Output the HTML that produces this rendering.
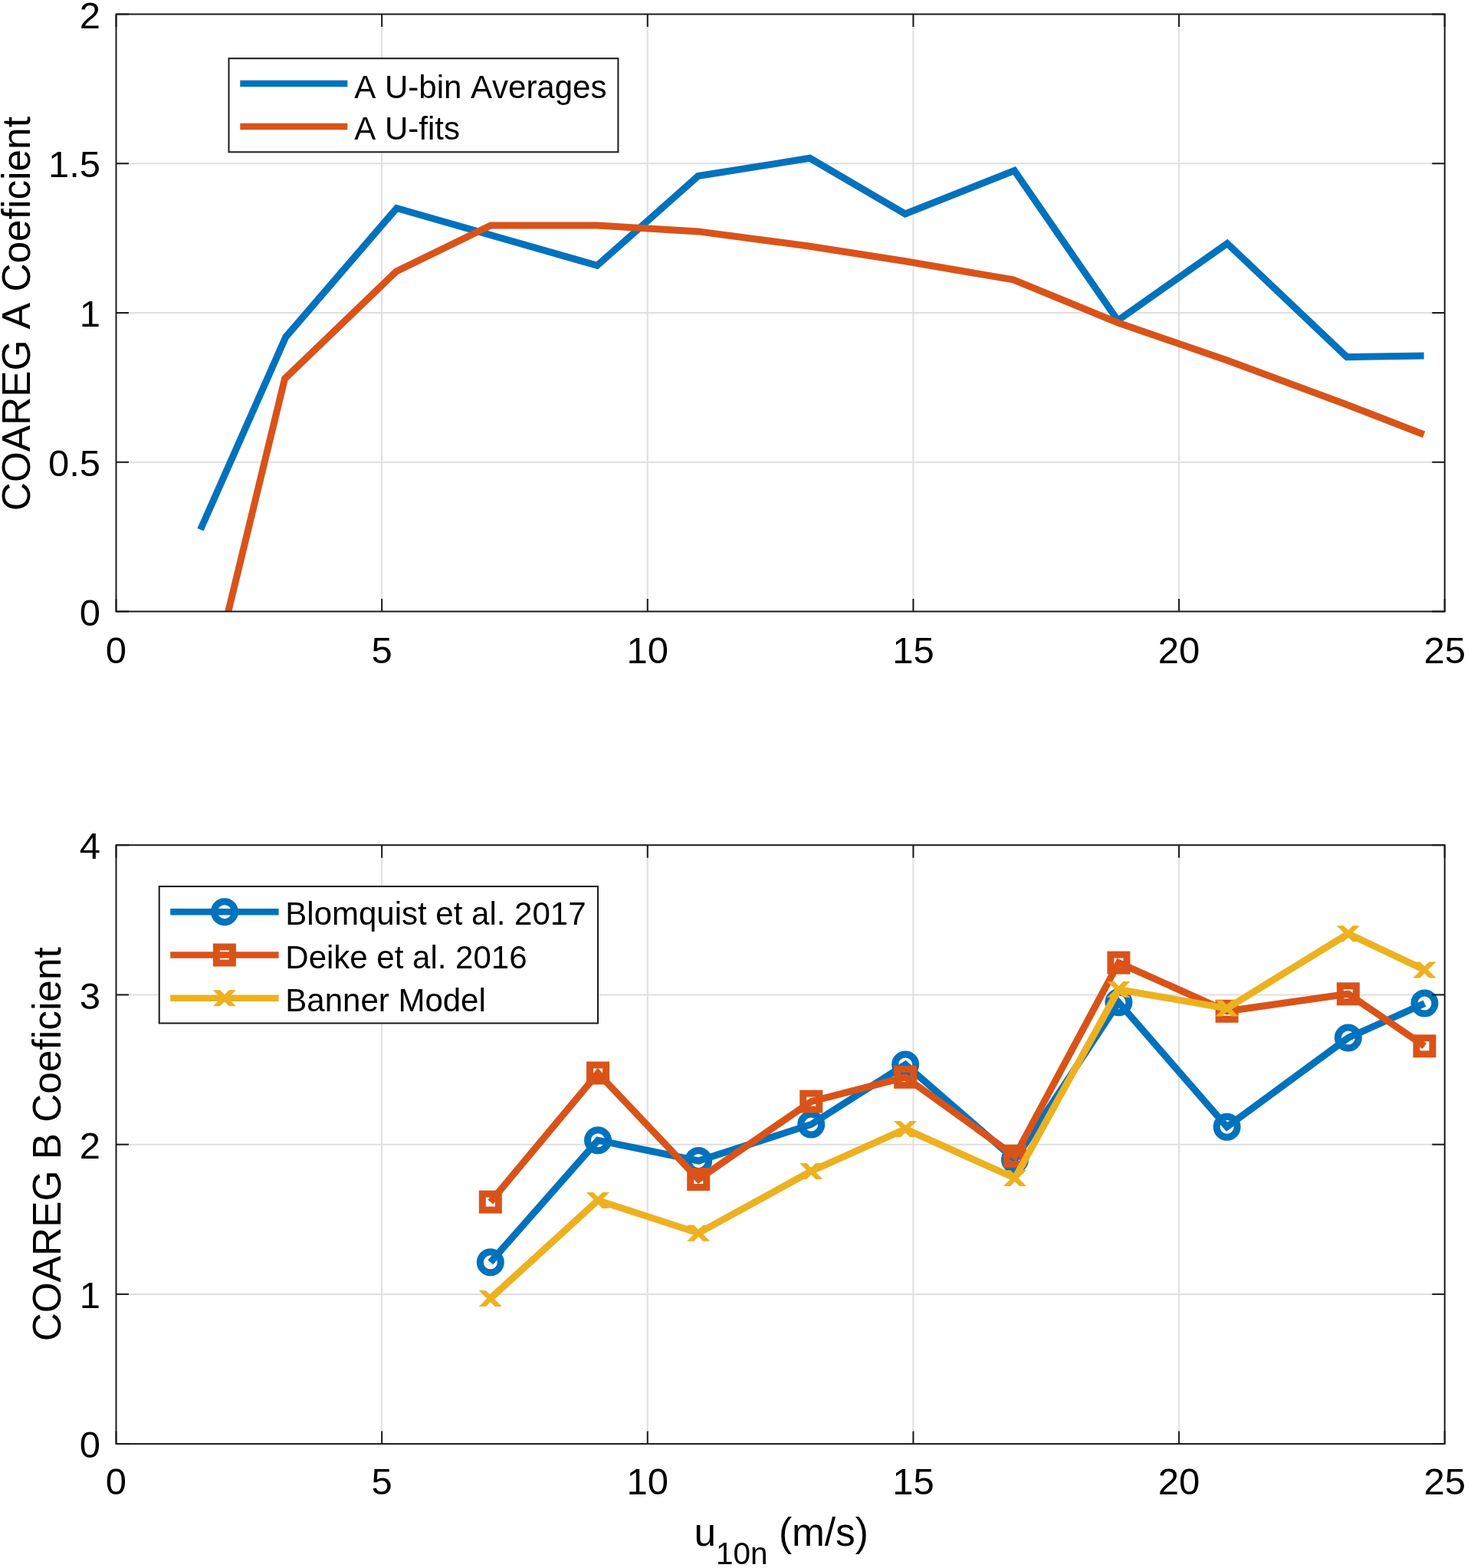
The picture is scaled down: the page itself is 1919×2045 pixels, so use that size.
<!DOCTYPE html>
<html><head><meta charset="utf-8"><title>COAREG coefficients</title>
<style>
html,body{margin:0;padding:0;background:#ffffff;}
body{width:1919px;height:2045px;overflow:hidden;}
svg{display:block;}
text{font-kerning:none;}
</style></head><body>
<svg xmlns="http://www.w3.org/2000/svg" width="1919" height="2045" viewBox="0 0 1919 2045" font-family='"Liberation Sans", Arial, Helvetica, sans-serif' fill="#000000">
<defs>
<clipPath id="ct"><rect x="151.5" y="18.5" width="1733.2" height="779.0"/></clipPath>
<clipPath id="cb"><rect x="151.5" y="1102.2" width="1733.2" height="780.8999999999999"/></clipPath>
</defs>
<rect x="0" y="0" width="1919" height="2045" fill="#ffffff"/>
<line x1="498.14" y1="18.50" x2="498.14" y2="797.50" stroke="#dfdfdf" stroke-width="2" />
<line x1="844.78" y1="18.50" x2="844.78" y2="797.50" stroke="#dfdfdf" stroke-width="2" />
<line x1="1191.42" y1="18.50" x2="1191.42" y2="797.50" stroke="#dfdfdf" stroke-width="2" />
<line x1="1538.06" y1="18.50" x2="1538.06" y2="797.50" stroke="#dfdfdf" stroke-width="2" />
<line x1="151.50" y1="602.75" x2="1884.70" y2="602.75" stroke="#dfdfdf" stroke-width="2" />
<line x1="151.50" y1="408.00" x2="1884.70" y2="408.00" stroke="#dfdfdf" stroke-width="2" />
<line x1="151.50" y1="213.25" x2="1884.70" y2="213.25" stroke="#dfdfdf" stroke-width="2" />
<g clip-path="url(#ct)">
<polyline points="261.50,690.80 372.80,439.50 517.50,271.50 779.00,346.30 910.80,229.60 1056.50,206.30 1180.80,279.00 1323.30,222.50 1458.30,418.00 1601.00,317.50 1757.00,465.60 1857.60,463.90" fill="none" stroke="#0072BD" stroke-width="9.0" stroke-linejoin="miter" stroke-miterlimit="3" />
<polyline points="262.00,945.00 371.50,493.90 517.00,353.90 640.20,293.90 779.50,293.90 910.80,301.90 1055.00,321.00 1181.30,340.80 1322.00,364.90 1458.60,421.00 1601.00,470.00 1757.00,527.80 1857.60,566.80" fill="none" stroke="#D95319" stroke-width="9.0" stroke-linejoin="miter" stroke-miterlimit="3" />
</g>
<line x1="151.50" y1="797.50" x2="151.50" y2="781.00" stroke="#1a1a1a" stroke-width="2.0" />
<line x1="151.50" y1="18.50" x2="151.50" y2="35.00" stroke="#1a1a1a" stroke-width="2.0" />
<line x1="498.14" y1="797.50" x2="498.14" y2="781.00" stroke="#1a1a1a" stroke-width="2.0" />
<line x1="498.14" y1="18.50" x2="498.14" y2="35.00" stroke="#1a1a1a" stroke-width="2.0" />
<line x1="844.78" y1="797.50" x2="844.78" y2="781.00" stroke="#1a1a1a" stroke-width="2.0" />
<line x1="844.78" y1="18.50" x2="844.78" y2="35.00" stroke="#1a1a1a" stroke-width="2.0" />
<line x1="1191.42" y1="797.50" x2="1191.42" y2="781.00" stroke="#1a1a1a" stroke-width="2.0" />
<line x1="1191.42" y1="18.50" x2="1191.42" y2="35.00" stroke="#1a1a1a" stroke-width="2.0" />
<line x1="1538.06" y1="797.50" x2="1538.06" y2="781.00" stroke="#1a1a1a" stroke-width="2.0" />
<line x1="1538.06" y1="18.50" x2="1538.06" y2="35.00" stroke="#1a1a1a" stroke-width="2.0" />
<line x1="1884.70" y1="797.50" x2="1884.70" y2="781.00" stroke="#1a1a1a" stroke-width="2.0" />
<line x1="1884.70" y1="18.50" x2="1884.70" y2="35.00" stroke="#1a1a1a" stroke-width="2.0" />
<line x1="151.50" y1="797.50" x2="168.00" y2="797.50" stroke="#1a1a1a" stroke-width="2.0" />
<line x1="1884.70" y1="797.50" x2="1868.20" y2="797.50" stroke="#1a1a1a" stroke-width="2.0" />
<line x1="151.50" y1="602.75" x2="168.00" y2="602.75" stroke="#1a1a1a" stroke-width="2.0" />
<line x1="1884.70" y1="602.75" x2="1868.20" y2="602.75" stroke="#1a1a1a" stroke-width="2.0" />
<line x1="151.50" y1="408.00" x2="168.00" y2="408.00" stroke="#1a1a1a" stroke-width="2.0" />
<line x1="1884.70" y1="408.00" x2="1868.20" y2="408.00" stroke="#1a1a1a" stroke-width="2.0" />
<line x1="151.50" y1="213.25" x2="168.00" y2="213.25" stroke="#1a1a1a" stroke-width="2.0" />
<line x1="1884.70" y1="213.25" x2="1868.20" y2="213.25" stroke="#1a1a1a" stroke-width="2.0" />
<line x1="151.50" y1="18.50" x2="168.00" y2="18.50" stroke="#1a1a1a" stroke-width="2.0" />
<line x1="1884.70" y1="18.50" x2="1868.20" y2="18.50" stroke="#1a1a1a" stroke-width="2.0" />
<rect x="151.50" y="18.50" width="1733.20" height="779.00" fill="none" stroke="#1a1a1a" stroke-width="2.0"/>
<text x="151.50" y="865.00" font-size="49.0" text-anchor="middle" >0</text>
<text x="498.14" y="865.00" font-size="49.0" text-anchor="middle" >5</text>
<text x="844.78" y="865.00" font-size="49.0" text-anchor="middle" >10</text>
<text x="1191.42" y="865.00" font-size="49.0" text-anchor="middle" >15</text>
<text x="1538.06" y="865.00" font-size="49.0" text-anchor="middle" >20</text>
<text x="1884.70" y="865.00" font-size="49.0" text-anchor="middle" >25</text>
<text x="131.00" y="815.70" font-size="49.0" text-anchor="end" >0</text>
<text x="131.00" y="620.95" font-size="49.0" text-anchor="end" >0.5</text>
<text x="131.00" y="426.20" font-size="49.0" text-anchor="end" >1</text>
<text x="131.00" y="231.45" font-size="49.0" text-anchor="end" >1.5</text>
<text x="131.00" y="36.70" font-size="49.0" text-anchor="end" >2</text>
<rect x="298.5" y="76.2" width="507.9" height="122.10000000000001" fill="#ffffff" stroke="#1a1a1a" stroke-width="2.0"/>
<line x1="313.30" y1="109.10" x2="453.30" y2="109.10" stroke="#0072BD" stroke-width="8.5" />
<line x1="313.30" y1="165.10" x2="453.30" y2="165.10" stroke="#D95319" stroke-width="8.5" />
<text x="462.30" y="127.70" font-size="42.0" text-anchor="start" >A U-bin Averages</text>
<text x="462.30" y="181.50" font-size="42.0" text-anchor="start" >A U-fits</text>
<text transform="translate(38.8,409.1) rotate(-90)" font-size="51.4" text-anchor="middle">COAREG A Coeficient</text>
<line x1="498.14" y1="1102.20" x2="498.14" y2="1883.10" stroke="#dfdfdf" stroke-width="2" />
<line x1="844.78" y1="1102.20" x2="844.78" y2="1883.10" stroke="#dfdfdf" stroke-width="2" />
<line x1="1191.42" y1="1102.20" x2="1191.42" y2="1883.10" stroke="#dfdfdf" stroke-width="2" />
<line x1="1538.06" y1="1102.20" x2="1538.06" y2="1883.10" stroke="#dfdfdf" stroke-width="2" />
<line x1="151.50" y1="1687.88" x2="1884.70" y2="1687.88" stroke="#dfdfdf" stroke-width="2" />
<line x1="151.50" y1="1492.65" x2="1884.70" y2="1492.65" stroke="#dfdfdf" stroke-width="2" />
<line x1="151.50" y1="1297.42" x2="1884.70" y2="1297.42" stroke="#dfdfdf" stroke-width="2" />
<g clip-path="url(#cb)">
<polyline points="639.80,1646.30 780.00,1487.20 911.20,1514.00 1058.20,1466.50 1181.10,1388.40 1324.00,1512.40 1459.40,1307.30 1600.60,1469.70 1758.80,1353.50 1858.40,1308.60" fill="none" stroke="#0072BD" stroke-width="9.0" stroke-linejoin="miter" stroke-miterlimit="3" />
<circle cx="639.80" cy="1646.30" r="13.5" fill="none" stroke="#0072BD" stroke-width="9.0"/>
<circle cx="780.00" cy="1487.20" r="13.5" fill="none" stroke="#0072BD" stroke-width="9.0"/>
<circle cx="911.20" cy="1514.00" r="13.5" fill="none" stroke="#0072BD" stroke-width="9.0"/>
<circle cx="1058.20" cy="1466.50" r="13.5" fill="none" stroke="#0072BD" stroke-width="9.0"/>
<circle cx="1181.10" cy="1388.40" r="13.5" fill="none" stroke="#0072BD" stroke-width="9.0"/>
<circle cx="1324.00" cy="1512.40" r="13.5" fill="none" stroke="#0072BD" stroke-width="9.0"/>
<circle cx="1459.40" cy="1307.30" r="13.5" fill="none" stroke="#0072BD" stroke-width="9.0"/>
<circle cx="1600.60" cy="1469.70" r="13.5" fill="none" stroke="#0072BD" stroke-width="9.0"/>
<circle cx="1758.80" cy="1353.50" r="13.5" fill="none" stroke="#0072BD" stroke-width="9.0"/>
<circle cx="1858.40" cy="1308.60" r="13.5" fill="none" stroke="#0072BD" stroke-width="9.0"/>
<polyline points="639.80,1567.60 780.00,1399.50 911.20,1538.00 1058.20,1436.60 1181.10,1404.80 1324.00,1507.80 1459.40,1255.60 1600.60,1318.80 1758.80,1296.30 1858.40,1364.30" fill="none" stroke="#D95319" stroke-width="9.0" stroke-linejoin="miter" stroke-miterlimit="3" />
<rect x="629.30" y="1557.10" width="21.0" height="21.0" fill="none" stroke="#D95319" stroke-width="9.0"/>
<rect x="769.50" y="1389.00" width="21.0" height="21.0" fill="none" stroke="#D95319" stroke-width="9.0"/>
<rect x="900.70" y="1527.50" width="21.0" height="21.0" fill="none" stroke="#D95319" stroke-width="9.0"/>
<rect x="1047.70" y="1426.10" width="21.0" height="21.0" fill="none" stroke="#D95319" stroke-width="9.0"/>
<rect x="1170.60" y="1394.30" width="21.0" height="21.0" fill="none" stroke="#D95319" stroke-width="9.0"/>
<rect x="1313.50" y="1497.30" width="21.0" height="21.0" fill="none" stroke="#D95319" stroke-width="9.0"/>
<rect x="1448.90" y="1245.10" width="21.0" height="21.0" fill="none" stroke="#D95319" stroke-width="9.0"/>
<rect x="1590.10" y="1308.30" width="21.0" height="21.0" fill="none" stroke="#D95319" stroke-width="9.0"/>
<rect x="1748.30" y="1285.80" width="21.0" height="21.0" fill="none" stroke="#D95319" stroke-width="9.0"/>
<rect x="1847.90" y="1353.80" width="21.0" height="21.0" fill="none" stroke="#D95319" stroke-width="9.0"/>
<polyline points="639.80,1693.40 780.00,1565.50 911.20,1608.20 1058.20,1527.50 1181.10,1472.50 1324.00,1536.50 1459.40,1290.50 1600.60,1315.10 1758.80,1217.80 1858.40,1264.90" fill="none" stroke="#EDB120" stroke-width="9.0" stroke-linejoin="miter" stroke-miterlimit="3" />
<polygon points="624.70,1682.90 633.90,1682.90 654.90,1703.90 645.70,1703.90" fill="#EDB120"/>
<polygon points="645.70,1682.90 654.90,1682.90 633.90,1703.90 624.70,1703.90" fill="#EDB120"/>
<polygon points="764.90,1555.00 774.10,1555.00 795.10,1576.00 785.90,1576.00" fill="#EDB120"/>
<polygon points="785.90,1555.00 795.10,1555.00 774.10,1576.00 764.90,1576.00" fill="#EDB120"/>
<polygon points="896.10,1597.70 905.30,1597.70 926.30,1618.70 917.10,1618.70" fill="#EDB120"/>
<polygon points="917.10,1597.70 926.30,1597.70 905.30,1618.70 896.10,1618.70" fill="#EDB120"/>
<polygon points="1043.10,1517.00 1052.30,1517.00 1073.30,1538.00 1064.10,1538.00" fill="#EDB120"/>
<polygon points="1064.10,1517.00 1073.30,1517.00 1052.30,1538.00 1043.10,1538.00" fill="#EDB120"/>
<polygon points="1166.00,1462.00 1175.20,1462.00 1196.20,1483.00 1187.00,1483.00" fill="#EDB120"/>
<polygon points="1187.00,1462.00 1196.20,1462.00 1175.20,1483.00 1166.00,1483.00" fill="#EDB120"/>
<polygon points="1308.90,1526.00 1318.10,1526.00 1339.10,1547.00 1329.90,1547.00" fill="#EDB120"/>
<polygon points="1329.90,1526.00 1339.10,1526.00 1318.10,1547.00 1308.90,1547.00" fill="#EDB120"/>
<polygon points="1444.30,1280.00 1453.50,1280.00 1474.50,1301.00 1465.30,1301.00" fill="#EDB120"/>
<polygon points="1465.30,1280.00 1474.50,1280.00 1453.50,1301.00 1444.30,1301.00" fill="#EDB120"/>
<polygon points="1585.50,1304.60 1594.70,1304.60 1615.70,1325.60 1606.50,1325.60" fill="#EDB120"/>
<polygon points="1606.50,1304.60 1615.70,1304.60 1594.70,1325.60 1585.50,1325.60" fill="#EDB120"/>
<polygon points="1743.70,1207.30 1752.90,1207.30 1773.90,1228.30 1764.70,1228.30" fill="#EDB120"/>
<polygon points="1764.70,1207.30 1773.90,1207.30 1752.90,1228.30 1743.70,1228.30" fill="#EDB120"/>
<polygon points="1843.30,1254.40 1852.50,1254.40 1873.50,1275.40 1864.30,1275.40" fill="#EDB120"/>
<polygon points="1864.30,1254.40 1873.50,1254.40 1852.50,1275.40 1843.30,1275.40" fill="#EDB120"/>
</g>
<line x1="151.50" y1="1883.10" x2="151.50" y2="1866.60" stroke="#1a1a1a" stroke-width="2.0" />
<line x1="151.50" y1="1102.20" x2="151.50" y2="1118.70" stroke="#1a1a1a" stroke-width="2.0" />
<line x1="498.14" y1="1883.10" x2="498.14" y2="1866.60" stroke="#1a1a1a" stroke-width="2.0" />
<line x1="498.14" y1="1102.20" x2="498.14" y2="1118.70" stroke="#1a1a1a" stroke-width="2.0" />
<line x1="844.78" y1="1883.10" x2="844.78" y2="1866.60" stroke="#1a1a1a" stroke-width="2.0" />
<line x1="844.78" y1="1102.20" x2="844.78" y2="1118.70" stroke="#1a1a1a" stroke-width="2.0" />
<line x1="1191.42" y1="1883.10" x2="1191.42" y2="1866.60" stroke="#1a1a1a" stroke-width="2.0" />
<line x1="1191.42" y1="1102.20" x2="1191.42" y2="1118.70" stroke="#1a1a1a" stroke-width="2.0" />
<line x1="1538.06" y1="1883.10" x2="1538.06" y2="1866.60" stroke="#1a1a1a" stroke-width="2.0" />
<line x1="1538.06" y1="1102.20" x2="1538.06" y2="1118.70" stroke="#1a1a1a" stroke-width="2.0" />
<line x1="1884.70" y1="1883.10" x2="1884.70" y2="1866.60" stroke="#1a1a1a" stroke-width="2.0" />
<line x1="1884.70" y1="1102.20" x2="1884.70" y2="1118.70" stroke="#1a1a1a" stroke-width="2.0" />
<line x1="151.50" y1="1883.10" x2="168.00" y2="1883.10" stroke="#1a1a1a" stroke-width="2.0" />
<line x1="1884.70" y1="1883.10" x2="1868.20" y2="1883.10" stroke="#1a1a1a" stroke-width="2.0" />
<line x1="151.50" y1="1687.88" x2="168.00" y2="1687.88" stroke="#1a1a1a" stroke-width="2.0" />
<line x1="1884.70" y1="1687.88" x2="1868.20" y2="1687.88" stroke="#1a1a1a" stroke-width="2.0" />
<line x1="151.50" y1="1492.65" x2="168.00" y2="1492.65" stroke="#1a1a1a" stroke-width="2.0" />
<line x1="1884.70" y1="1492.65" x2="1868.20" y2="1492.65" stroke="#1a1a1a" stroke-width="2.0" />
<line x1="151.50" y1="1297.42" x2="168.00" y2="1297.42" stroke="#1a1a1a" stroke-width="2.0" />
<line x1="1884.70" y1="1297.42" x2="1868.20" y2="1297.42" stroke="#1a1a1a" stroke-width="2.0" />
<line x1="151.50" y1="1102.20" x2="168.00" y2="1102.20" stroke="#1a1a1a" stroke-width="2.0" />
<line x1="1884.70" y1="1102.20" x2="1868.20" y2="1102.20" stroke="#1a1a1a" stroke-width="2.0" />
<rect x="151.50" y="1102.20" width="1733.20" height="780.90" fill="none" stroke="#1a1a1a" stroke-width="2.0"/>
<text x="151.50" y="1948.70" font-size="49.0" text-anchor="middle" >0</text>
<text x="498.14" y="1948.70" font-size="49.0" text-anchor="middle" >5</text>
<text x="844.78" y="1948.70" font-size="49.0" text-anchor="middle" >10</text>
<text x="1191.42" y="1948.70" font-size="49.0" text-anchor="middle" >15</text>
<text x="1538.06" y="1948.70" font-size="49.0" text-anchor="middle" >20</text>
<text x="1884.70" y="1948.70" font-size="49.0" text-anchor="middle" >25</text>
<text x="131.00" y="1901.30" font-size="49.0" text-anchor="end" >0</text>
<text x="131.00" y="1706.08" font-size="49.0" text-anchor="end" >1</text>
<text x="131.00" y="1510.85" font-size="49.0" text-anchor="end" >2</text>
<text x="131.00" y="1315.62" font-size="49.0" text-anchor="end" >3</text>
<text x="131.00" y="1120.40" font-size="49.0" text-anchor="end" >4</text>
<rect x="207.7" y="1156.1" width="572.3" height="178.4000000000001" fill="#ffffff" stroke="#1a1a1a" stroke-width="2.0"/>
<line x1="222.20" y1="1189.20" x2="363.60" y2="1189.20" stroke="#0072BD" stroke-width="8.5" />
<circle cx="292.90" cy="1189.20" r="13.5" fill="none" stroke="#0072BD" stroke-width="9.0"/>
<text x="372.30" y="1206.20" font-size="42.0" text-anchor="start" >Blomquist et al. 2017</text>
<line x1="222.20" y1="1245.50" x2="363.60" y2="1245.50" stroke="#D95319" stroke-width="8.5" />
<rect x="282.40" y="1235.00" width="21.0" height="21.0" fill="none" stroke="#D95319" stroke-width="9.0"/>
<text x="372.30" y="1262.50" font-size="42.0" text-anchor="start" >Deike et al. 2016</text>
<line x1="222.20" y1="1301.70" x2="363.60" y2="1301.70" stroke="#EDB120" stroke-width="8.5" />
<polygon points="277.80,1291.20 287.00,1291.20 308.00,1312.20 298.80,1312.20" fill="#EDB120"/>
<polygon points="298.80,1291.20 308.00,1291.20 287.00,1312.20 277.80,1312.20" fill="#EDB120"/>
<text x="372.30" y="1318.70" font-size="42.0" text-anchor="start" >Banner Model</text>
<text transform="translate(78.9,1492.3) rotate(-90)" font-size="51.4" text-anchor="middle">COAREG B Coeficient</text>
<text x="1019.2" y="2015.8" font-size="51.4" text-anchor="middle">u<tspan font-size="40.5" dy="24">10n</tspan><tspan dy="-24"> (m/s)</tspan></text>
</svg>
</body></html>
